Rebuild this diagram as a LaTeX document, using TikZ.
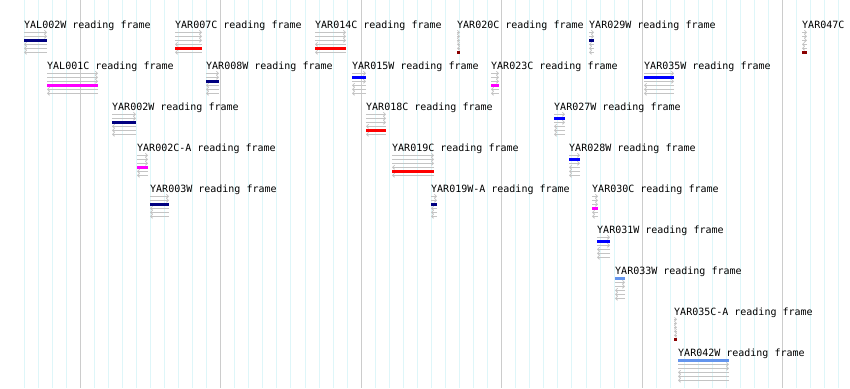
\documentclass[tikz,border=0pt]{standalone}
\usepackage{fontspec}
\newfontfamily\lblfont{DejaVu Sans Mono}
\usetikzlibrary{arrows.meta}
\definecolor{orfnavy}{HTML}{000080}
\definecolor{orfred}{HTML}{FF0000}
\definecolor{orfmaroon}{HTML}{8B0000}
\definecolor{orfmagenta}{HTML}{FF00FF}
\definecolor{orfblue}{HTML}{0000FF}
\definecolor{orfcorn}{HTML}{6495ED}
\definecolor{lanegray}{rgb}{0.77,0.77,0.77}
\definecolor{minorgrid}{rgb}{0.87,0.965,0.975}
\definecolor{majorgrid}{rgb}{0.8,0.8,0.8}
\tikzset{
  lbl/.style={anchor=base west, inner sep=0pt, font=\lblfont\fontsize{10}{12}\selectfont, text=black},
  fwdlane/.style={draw=lanegray, line width=0.8pt, -{Straight Barb[length=2pt,width=4pt]}},
  revlane/.style={draw=lanegray, line width=0.8pt, -{Straight Barb[length=2pt,width=4pt]}},
  orfbar/.style={line width=3pt},
  minorline/.style={draw=minorgrid, line width=1pt},
  majorline/.style={draw=majorgrid, line width=1pt}
}
\newcommand{\orf}[7]{%
  \node[lbl] (#1) at (#3,#5+4) {#2};
  \foreach \k in {1,2,3}{%
    \ifnum\k=#6\relax\else
      \draw[fwdlane] (#3,#5+4.3+4*\k) -- (#4,#5+4.3+4*\k);
    \fi}
  \foreach \k in {4,5,6}{%
    \ifnum\k=#6\relax\else
      \draw[revlane] (#4,#5+4.3+4*\k) -- (#3,#5+4.3+4*\k);
    \fi}
  \draw[orfbar, draw=#7] (#3,#5+4.3+4*#6) -- (#4,#5+4.3+4*#6);
}
\begin{document}
\begin{tikzpicture}[x=1pt,y=-1pt]
\fill[white] (0,0) rectangle (850,388);
\useasboundingbox (0,0) rectangle (850,388);
\foreach \k in {0,...,58}{
  \pgfmathtruncatemacro\m{mod(\k+6,10)}
  \ifnum\m=0\relax\else
    \draw[minorline] ({24+14.05*\k},0) -- ({24+14.05*\k},388);
  \fi
}
\foreach \k in {4,14,24,34,44,54}{
  \draw[majorline] ({24+14.05*\k},0) -- ({24+14.05*\k},388);
}
% row 1
\orf{yal002w}{YAL002W reading frame}{24}{47}{24}{3}{orfnavy}
\orf{yar007c}{YAR007C reading frame}{175}{202}{24}{5}{orfred}
\orf{yar014c}{YAR014C reading frame}{315}{346}{24}{5}{orfred}
\orf{yar020c}{YAR020C reading frame}{457}{460}{24}{6}{orfmaroon}
\orf{yar029w}{YAR029W reading frame}{589}{594}{24}{3}{orfnavy}
\orf{yar047c}{YAR047C}{802}{807}{24}{6}{orfmaroon}
% row 2
\orf{yal001c}{YAL001C reading frame}{47}{98}{65}{4}{orfmagenta}
\orf{yar008w}{YAR008W reading frame}{206}{219}{65}{3}{orfnavy}
\orf{yar015w}{YAR015W reading frame}{352}{366}{65}{2}{orfblue}
\orf{yar023c}{YAR023C reading frame}{491}{499}{65}{4}{orfmagenta}
\orf{yar035w}{YAR035W reading frame}{644}{674}{65}{2}{orfblue}
% row 3
\orf{yar002w}{YAR002W reading frame}{112}{136}{106}{3}{orfnavy}
\orf{yar018c}{YAR018C reading frame}{366}{386}{106}{5}{orfred}
\orf{yar027w}{YAR027W reading frame}{554}{565}{106}{2}{orfblue}
% row 4
\orf{yar002ca}{YAR002C-A reading frame}{137}{148}{147}{4}{orfmagenta}
\orf{yar019c}{YAR019C reading frame}{392}{434}{147}{5}{orfred}
\orf{yar028w}{YAR028W reading frame}{569}{580}{147}{2}{orfblue}
% row 5
\orf{yar003w}{YAR003W reading frame}{150}{169}{188}{3}{orfnavy}
\orf{yar019wa}{YAR019W-A reading frame}{431}{437}{188}{3}{orfnavy}
\orf{yar030c}{YAR030C reading frame}{592}{598}{188}{4}{orfmagenta}
% rows 6-9
\orf{yar031w}{YAR031W reading frame}{597}{610}{229}{2}{orfblue}
\orf{yar033w}{YAR033W reading frame}{615}{625}{270}{1}{orfcorn}
\orf{yar035ca}{YAR035C-A reading frame}{674}{677}{311}{6}{orfmaroon}
\orf{yar042w}{YAR042W reading frame}{678}{729}{352}{1}{orfcorn}
\end{tikzpicture}
\end{document}
